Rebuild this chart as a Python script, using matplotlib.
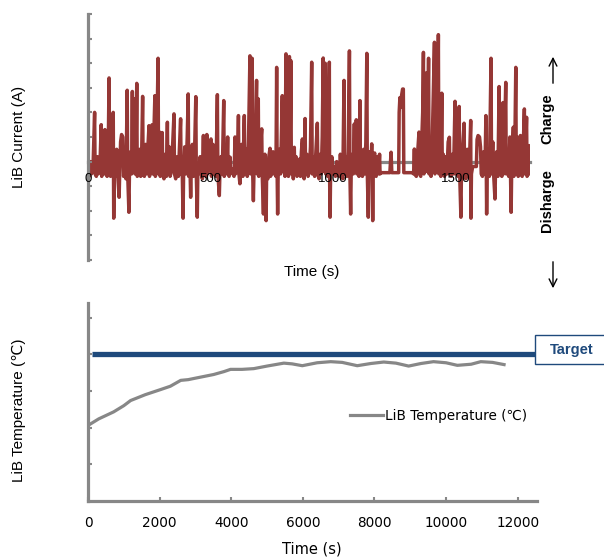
import matplotlib
matplotlib.use("Agg")
import matplotlib.pyplot as plt

# ---------------- data ----------------
current_t = [0, 5, 10, 14, 20, 27, 29, 34, 38, 42, 48, 54, 56, 60, 64, 69, 71, 73, 78, 82,
             86, 88, 92, 97, 100, 103, 104, 105, 107, 112, 117, 121, 127, 129, 133, 137, 142, 145, 150, 155,
             160, 162, 167, 169, 174, 178, 181, 183, 187, 190, 192, 196, 199, 201, 206, 211, 215, 219, 223, 225,
             230, 235, 239, 243, 249, 251, 256, 262, 264, 268, 273, 275, 280, 286, 288, 292, 295, 300, 303, 305,
             310, 315, 320, 324, 326, 331, 335, 340, 346, 351, 353, 358, 364, 369, 373, 378, 380, 384, 388, 390,
             395, 400, 405, 409, 411, 415, 419, 421, 426, 430, 435, 440, 442, 446, 448, 453, 458, 462, 467, 471,
             473, 478, 482, 485, 487, 492, 497, 502, 504, 510, 512, 517, 522, 528, 530, 536, 538, 543, 548, 554,
             556, 561, 566, 570, 572, 576, 580, 582, 587, 592, 596, 600, 602, 607, 611, 614, 616, 620, 622, 627,
             632, 638, 640, 645, 650, 655, 661, 663, 667, 670, 672, 675, 677, 682, 688, 690, 695, 697, 703, 709,
             711, 716, 718, 722, 727, 729, 734, 738, 743, 745, 750, 755, 758, 763, 767, 770, 772, 774, 776, 781,
             786, 793, 795, 800, 804, 808, 810, 815, 818, 822, 824, 828, 830, 835, 838, 842, 844, 849, 853, 858,
             863, 867, 871, 875, 877, 882, 886, 888, 893, 898, 903, 908, 913, 915, 920, 925, 930, 936, 938, 943,
             948, 952, 956, 960, 962, 965, 968, 970, 975, 978, 985, 986, 988, 990, 995, 1000, 1005, 1010, 1015, 1020,
             1025, 1030, 1035, 1040, 1045, 1047, 1052, 1057, 1062, 1067, 1069, 1072, 1074, 1079, 1083, 1087, 1089, 1095, 1097, 1102,
             1106, 1110, 1112, 1116, 1120, 1125, 1130, 1134, 1138, 1140, 1144, 1146, 1150, 1154, 1158, 1160, 1162, 1164, 1167, 1170,
             1172, 1176, 1182, 1186, 1190, 1192, 1196, 1232, 1237, 1240, 1268, 1270, 1273, 1276, 1280, 1284, 1287, 1289, 1325, 1329,
             1332, 1334, 1340, 1345, 1351, 1353, 1358, 1362, 1366, 1369, 1371, 1375, 1380, 1382, 1386, 1390, 1392, 1396, 1400, 1405,
             1410, 1414, 1416, 1420, 1424, 1426, 1430, 1432, 1436, 1440, 1444, 1446, 1450, 1455, 1460, 1465, 1470, 1475, 1477, 1482,
             1487, 1492, 1498, 1500, 1505, 1510, 1515, 1517, 1522, 1524, 1529, 1535, 1537, 1542, 1548, 1550, 1555, 1562, 1563, 1565,
             1570, 1585, 1588, 1592, 1598, 1602, 1605, 1610, 1615, 1620, 1624, 1627, 1629, 1634, 1638, 1642, 1645, 1647, 1652, 1656,
             1661, 1663, 1668, 1673, 1678, 1680, 1685, 1689, 1694, 1696, 1700, 1705, 1707, 1712, 1717, 1722, 1727, 1729, 1736, 1738,
             1742, 1746, 1748, 1752, 1756, 1761, 1765, 1767, 1772, 1776, 1781, 1783, 1790, 1792, 1796, 1800, 1803]
current_v = [-3, -6, 0, -5, -4, 20, -5, -6, 2, -5, -4, 15, -6, 3, -5, 13, 8, -5, -6, 0,
             34, -4, -6, 4, -5, 20, -3, -23, -5, -6, 5, -5, -14.5, -6, 8, 11, 10, -6, -4, -7,
             29, -5, -20.6, -6, 4, -5, 28.5, -4, 6, 25.6, -5, 2, 31.8, -6, -4, 5, -6, 3, 26.5, -5,
             -6, 7, -5, 3, 14.6, -6, 0, 15, -5, 8, 26.8, -6, 4, 42, -5, 12, -6, 5, 11.8, -5,
             -7, 3, -6, 16, -5, 6, -6, -4, 8, 19.4, -5, -7, 2, -6, 5, 17.4, -5, 0, -23, -6,
             6, -5, 10, 27.5, -6, 3, -14.5, -5, 7, -6, 4, 26.4, -5, -22.6, -6, -3, 2, -5, -7, 10.6,
             -5, 4, -6, 11, -5, -3, 5, 9.2, -6, 7, -5, -3, -6, 27.2, -5, -13.8, -6, 2, -5, 24.8,
             -6, 3, -5, 10, -4, -6, 1.8, -5, -3, -4, -6, 10, -5, -4, 3, 18.7, -5, -9, -5, 7,
             -6, 18.7, -4, 5, -6, 8, 43, -5, 6, 42, -4, -15.9, -6, 4, 33, -5, 25.5, -6, 5, 13.3,
             -5, -21.3, -6, 3, -24, -5, -7, 2, 5.4, -6, -4, 4, -5, 2, -6, 38.3, -5, -21.3, -6, 5,
             -5, 26.8, -4, 7, -6, 43.8, -5, 9, -6, 42.7, -4, 41, -5, 3, -7, 5.8, -5, 2, -6, -3,
             1, -6, 4, 9.2, -5, -7, 17.5, -5, 3, -6, -4, 6, 40.4, -5, 2, -6, 4, 15.6, -5, -7,
             3, -5, 10, 42.1, -4, 30, 40, -5, 5, -6, 40.4, -5, -22.6, -6, 2, -5, -2, -6, 0, -5,
             -6, 3, -5, -7, 33, -5, 2, -6, 4, 45, -5, -21.3, -6, 3, -5, 15.3, -4, 17, -5, 6,
             -6, 24.8, -5, 3, -6, 5, -5, 8, 44, -5, -22.6, -6, 4, -5, 7.2, -5, -24, -6, 2, 3.5,
             -5, -6, 2, -5, 3, -5, -4.5, -4.5, 3.8, -4.5, -4.5, 20, 26, 22, 27, 29.5, 29.5, -4.5, -4.5, -5,
             5.1, -5, -6, 3, 12, -5, -6, 8, 20, 44.4, -5, 25, 36, -4, 10, 42, -5, 3, -6, 8,
             30, 48.5, -5, 20, 35, -4, 51.6, -5, 6, -6, 27.8, -5, 3, -6, 2, -5, 8, 9.9, -5, -6,
             3, -5, 24.5, -5, 10, -6, 22.4, -5, -22.6, -6, 5, 15.6, -5, -7, 5, -5, -6, 16.7, -23, -5,
             -2, -2, 9, 10.6, 10, 6, -5, -6, 4, -5, 18.7, -21.3, -5, 5, -6, 20, 42, -5, 8, -6,
             -15.2, -5, 4, -6, 30.5, -5, 10, -6, 24, -5, 8, 32.2, -5, 3, -6, 10, -20.6, -5, 14, -6,
             5, 38.3, -5, 10, -6, 3, 10.6, -5, -6, 5, 21.4, -5, 18, -6, -4, 6.5, -5]

temp_t = [0, 300, 715, 1000, 1190, 1600, 2030, 2300, 2590, 2800, 3000, 3510, 3800, 3980, 4300,
          4630, 5000, 5470, 5700, 5985, 6400, 6780, 7100, 7520, 7900, 8260, 8600, 8955, 9300,
          9650, 10000, 10315, 10700, 10970, 11300, 11620]
temp_v = [20.6, 22.4, 24.3, 26.0, 27.4, 29.0, 30.4, 31.3, 32.9, 33.1, 33.5, 34.5, 35.3, 35.9,
          35.9, 36.1, 36.8, 37.6, 37.4, 36.9, 37.7, 38.0, 37.8, 36.9, 37.5, 37.9, 37.6, 36.8,
          37.5, 38.0, 37.7, 37.0, 37.3, 38.0, 37.8, 37.2]

target_t = [120, 12500]
target_v = [40, 40]

top_xticks = [0, 500, 1000, 1500]
bottom_xticks = [0, 2000, 4000, 6000, 8000, 10000, 12000]

# ---------------- style ----------------
GRAY = "#878787"
RED = "#953735"
NAVY = "#1f4a7c"
ARIAL = ["Liberation Sans", "DejaVu Sans"]
VERD = ["DejaVu Sans"]

fig = plt.figure(figsize=(6.04, 5.59), dpi=100)
W, H = 604, 559


def axrect(l, t, r, b):
    return [l / W, 1 - b / H, (r - l) / W, (b - t) / H]


# ---------------- top panel ----------------
ax1 = fig.add_axes(axrect(88, 14, 530, 260))
ax1.plot(current_t, current_v, color=RED, lw=2.5, zorder=2)
ax1.set_xlim(0, 1804)
ax1.set_ylim(-40, 60)
for s in ["top", "right"]:
    ax1.spines[s].set_visible(False)
ax1.spines["bottom"].set_position(("data", 0))
ax1.spines["bottom"].set_color(GRAY)
ax1.spines["bottom"].set_linewidth(2.3)
ax1.spines["bottom"].set_zorder(1)
ax1.spines["left"].set_color(GRAY)
ax1.spines["left"].set_linewidth(2.3)
ax1.set_axisbelow(False)
ax1.set_yticks(list(range(-40, 61, 10)))
ax1.set_yticklabels([])
ax1.tick_params(axis="y", direction="in", length=3, width=1.5, color=GRAY)
ax1.set_xticks(top_xticks)
ax1.set_xticklabels([str(v) for v in top_xticks], family=ARIAL, fontsize=9.5)
ax1.tick_params(axis="x", length=0, pad=8)

fig.text(312 / W, 1 - 272 / H, "Time (s)", family=ARIAL, fontsize=11, ha="center", va="center")
fig.text(19 / W, 1 - 137 / H, "LiB Current (A)", family=ARIAL, fontsize=11,
         rotation=90, ha="center", va="center")

# charge / discharge annotations
fig.text(547 / W, 1 - 119 / H, "Charge", family=ARIAL, fontsize=10.5, fontweight="bold",
         rotation=90, ha="center", va="center")
fig.text(547 / W, 1 - 201 / H, "Disharge", family=ARIAL, fontsize=10.5, fontweight="bold",
         rotation=90, ha="center", va="center")
fig.add_artist(matplotlib.patches.FancyArrowPatch((553 / W, 1 - 86 / H), (553 / W, 1 - 54 / H),
                                                  transform=fig.transFigure, arrowstyle="->",
                                                  mutation_scale=14, lw=1.0, color="black"))
fig.add_artist(matplotlib.patches.FancyArrowPatch((553 / W, 1 - 259 / H), (553 / W, 1 - 291 / H),
                                                  transform=fig.transFigure, arrowstyle="->",
                                                  mutation_scale=14, lw=1.0, color="black"))

# ---------------- bottom panel ----------------
ax2 = fig.add_axes(axrect(88, 303, 537, 501))
ax2.plot(target_t, target_v, color=NAVY, lw=3.8, solid_capstyle="butt", clip_on=False, zorder=3)
ax2.plot(temp_t, temp_v, color=GRAY, lw=2.3, label="LiB Temperature (℃)", zorder=2)
ax2.set_xlim(0, 12540)
ax2.set_ylim(0, 54)
for s in ["top", "right"]:
    ax2.spines[s].set_visible(False)
for s in ["bottom", "left"]:
    ax2.spines[s].set_color(GRAY)
    ax2.spines[s].set_linewidth(2.3)
ax2.set_yticks([10, 20, 30, 40, 50])
ax2.set_yticklabels([])
ax2.set_xticks(bottom_xticks)
ax2.set_xticklabels([str(v) for v in bottom_xticks], family=VERD, fontsize=9.8)
ax2.tick_params(axis="both", direction="in", length=3, width=1.5, color=GRAY)
ax2.tick_params(axis="x", pad=11)

leg = ax2.legend(loc="center left", bbox_to_anchor=((350 - 88) / 449, (501 - 416) / 198),
                 frameon=False, borderpad=0, borderaxespad=0, handlelength=2.4,
                 handletextpad=0.2, prop={"family": VERD, "size": 9.8})

fig.text(312 / W, 1 - 549 / H, "Time (s)", family=VERD, fontsize=10.5, ha="center", va="center")
fig.text(19 / W, 1 - 410 / H, "LiB Temperature (℃)", family=ARIAL, fontsize=11,
         rotation=90, ha="center", va="center")

# target box
fig.add_artist(matplotlib.patches.Rectangle((535 / W, 1 - 364 / H), 80 / W, 29 / H,
                                            transform=fig.transFigure, fill=True,
                                            facecolor="white", edgecolor=NAVY, lw=1.0))
fig.text(572 / W, 1 - 350 / H, "Target", family=ARIAL, fontsize=10.5, fontweight="bold",
         color=NAVY, ha="center", va="center")

fig.savefig("out.png", dpi=100)
